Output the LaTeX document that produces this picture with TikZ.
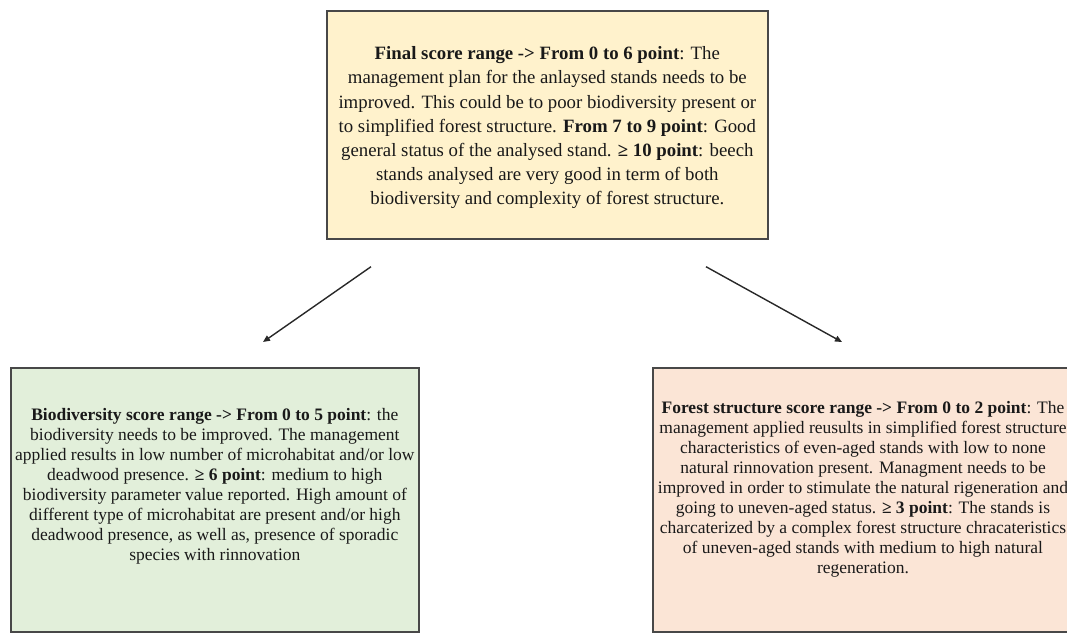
\documentclass[tikz,border=0pt]{standalone}
\usepackage{fontspec}
\setmainfont{Liberation Serif}
\usepackage{xcolor}
\usepackage{tikz}
\usetikzlibrary{arrows.meta,positioning}
\definecolor{finalYellow}{RGB}{255,242,204}
\definecolor{bioGreen}{RGB}{226,239,218}
\definecolor{forestPink}{RGB}{251,229,214}
\definecolor{boxEdge}{RGB}{72,72,72}
\definecolor{arrowGray}{RGB}{40,40,40}
\definecolor{txtGray}{RGB}{25,25,25}

\begin{document}
\begin{tikzpicture}[x=1pt,y=-1pt,
    scorebox/.style={draw=boxEdge, line width=1.7pt, inner sep=0pt, anchor=north west},
    scoretext/.style={text=txtGray, align=center, inner sep=0pt},
    pointer/.style={arrowGray, line width=1.4pt, -{Triangle[length=7pt,width=6pt]}}]

    \useasboundingbox (0,0) rectangle (1067,633);

    % boxes
    \node[scorebox, fill=finalYellow, minimum width=441pt, minimum height=228pt] (final) at (326,10) {};
    \node[scorebox, fill=bioGreen, minimum width=408pt, minimum height=264pt] (bio) at (10,367) {};
    \node[scorebox, fill=forestPink, minimum width=440pt, minimum height=264pt] (forest) at (652,367) {};

    % texts
    \node[scoretext, font=\fontsize{18.8}{24.2}\selectfont] (finaltxt) at ([yshift=-3pt]final.center)
        {\textbf{Final score range -> From 0 to 6 point}: The\\
         management plan for the anlaysed stands needs to be\\
         improved. This could be to poor biodiversity present or\\
         to simplified forest structure. \textbf{From 7 to 9 point}: Good\\
         general status of the analysed stand. \textbf{≥ 10 point}: beech\\
         stands analysed are very good in term of both\\
         biodiversity and complexity of forest structure.};
    \node[scoretext, font=\fontsize{17.5}{20}\selectfont] (biotxt) at ([yshift=14pt]bio.center)
        {\textbf{Biodiversity score range -> From 0 to 5 point}: the\\
         biodiversity needs to be improved. The management\\
         applied results in low number of microhabitat and/or low\\
         deadwood presence. \textbf{≥ 6 point}: medium to high\\
         biodiversity parameter value reported. High amount of\\
         different type of microhabitat are present and/or high\\
         deadwood presence, as well as, presence of sporadic\\
         species with rinnovation};
    \node[scoretext, font=\fontsize{17.5}{20}\selectfont] (foresttxt) at (863,489)
        {\textbf{Forest structure score range -> From 0 to 2 point}: The\\
         management applied reusults in simplified forest structure\\
         characteristics of even-aged stands with low to none\\
         natural rinnovation present. Managment needs to be\\
         improved in order to stimulate the natural rigeneration and\\
         going to uneven-aged status. \textbf{≥ 3 point}: The stands is\\
         charcaterized by a complex forest structure chracateristics\\
         of uneven-aged stands with medium to high natural\\
         regeneration.};

    % arrows
    \coordinate (bioend) at (263,342);
    \coordinate (forestend) at (842,342);
    \draw[pointer] ([xshift=45pt,yshift=-27pt]final.south west) -- (bioend);
    \draw[pointer] ([xshift=380pt,yshift=-27pt]final.south west) -- (forestend);

\end{tikzpicture}
\end{document}
